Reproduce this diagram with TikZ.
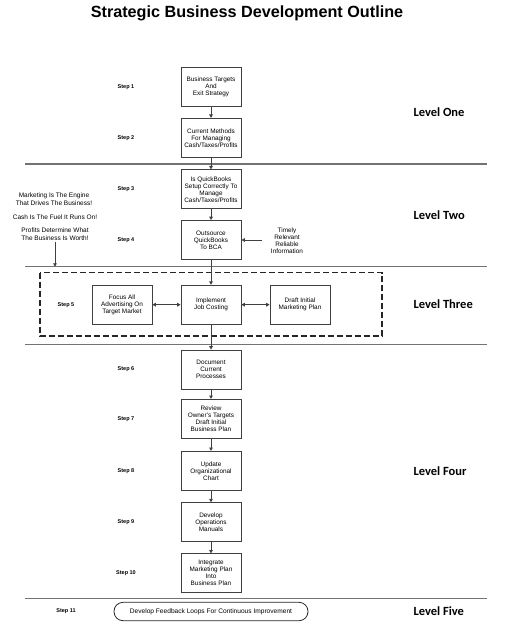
\documentclass[tikz,border=0pt]{standalone}
\usepackage{fontspec}
\setmainfont{Liberation Sans}
\newfontfamily\levelfont{Carlito}
\usetikzlibrary{arrows.meta}

\tikzset{
	box/.style={draw=black!75, line width=0.8pt, minimum width=60pt,
		minimum height=39pt, inner sep=1pt, align=center,
		font=\fontsize{6.4}{7}\selectfont},
	steplabel/.style={font=\bfseries\fontsize{5.5}{6}\selectfont},
	levellabel/.style={anchor=west, font=\levelfont\bfseries\fontsize{12.5}{14}\selectfont},
	note/.style={align=center, inner sep=0pt, font=\fontsize{6.5}{7.7}\selectfont},
	link/.style={draw=black!75, line width=0.8pt, -{Triangle[length=3.4pt,width=3.6pt]}},
	duallink/.style={draw=black!75, line width=0.8pt,
		{Triangle[length=3.4pt,width=3.6pt]}-{Triangle[length=3.4pt,width=3.6pt]}},
	divider/.style={draw=black!55, line width=1.2pt},
}

\begin{document}
\begin{tikzpicture}[x=1pt,y=-1pt]
	\useasboundingbox (0,0) rectangle (525,628);
	\node[font=\bfseries\fontsize{16.2}{18}\selectfont] (title) at (247,13)
		{Strategic Business Development Outline};
	% level dividers
	\foreach \Y in {164, 266.7, 344.3, 598.3}
		{\draw[divider] (25,\Y) -- (487,\Y);}
	\draw[draw=black!85, line width=1.3pt, dash pattern=on 6pt off 3pt]
		(40,272.7) rectangle (382,336);
	% main column
	\foreach \Y/\T [count=\Z] in {86.5/{Business Targets\\And\\Exit Strategy},
		137.8/{Current Methods\\For Managing\\Cash/Taxes/Profits},
		189.3/{Is QuickBooks\\Setup Correctly To\\Manage\\Cash/Taxes/Profits},
		240/{Outsource\\QuickBooks\\To BCA},
		304.7/{Implement\\Job Costing},
		369.5/{Document\\Current\\Processes},
		418.8/{Review\\Owner's Targets\\Draft Initial\\Business Plan},
		470.8/{Update\\Organizational\\Chart},
		522.2/{Develop\\Operations\\Manuals},
		573.3/{Integrate\\Marketing Plan\\Into\\Business Plan}}
	{\node[box] (b\Z) at (211,\Y) {\T};}
	\node[box] (bl) at (122,304.7) {Focus All\\Advertising On\\Target Market};
	\node[box] (br) at (300,304.7) {Draft Initial\\Marketing Plan};
	\node[draw=black!85, line width=0.8pt, rounded corners=9pt, minimum width=194pt,
		minimum height=18.4pt, font=\fontsize{6.6}{7}\selectfont] (fb) at (211,611.5)
		{Develop Feedback Loops For Continuous Improvement};
	\foreach \a [count=\b from 2] in {1,...,9}
		{\draw[link] (b\a) -- (b\b);}
	\draw[duallink] (bl) -- (b5);
	\draw[duallink] (b5) -- (br);
	% side notes
	\node[note] (n1) at (54,199) {Marketing Is The Engine\\That Drives The Business!};
	\node[note] (n2) at (55,216.7) {Cash Is The Fuel It Runs On!};
	\node[note] (n3) at (55,234.5) {Profits Determine What\\The Business Is Worth!};
	\coordinate (m) at (55,266.7);
	\draw[link] ([yshift=-1pt]n3.south) -- (m);
	\node[note, font=\fontsize{6.4}{7}\selectfont] (info) at (287,240.5)
		{Timely\\Relevant\\Reliable\\Information};
	\draw[link] (262,240) -- (b4.east);
	% steps and levels
	\foreach \X/\Y [count=\Z] in {126/87, 126/138, 126/189.3, 126/240, 66/305,
		126/369, 126/419, 126/470.7, 126/521.7, 126/572.7, 66/611}
	{\node[steplabel] (s\Z) at (\X,\Y) {Step \Z};}
	\foreach \Y/\T in {112.5/One, 215/Two, 304.3/Three, 470.7/Four, 611/Five}
	{\node[levellabel] (lv\T) at (410,\Y) {Level \T};}
\end{tikzpicture}
\end{document}
